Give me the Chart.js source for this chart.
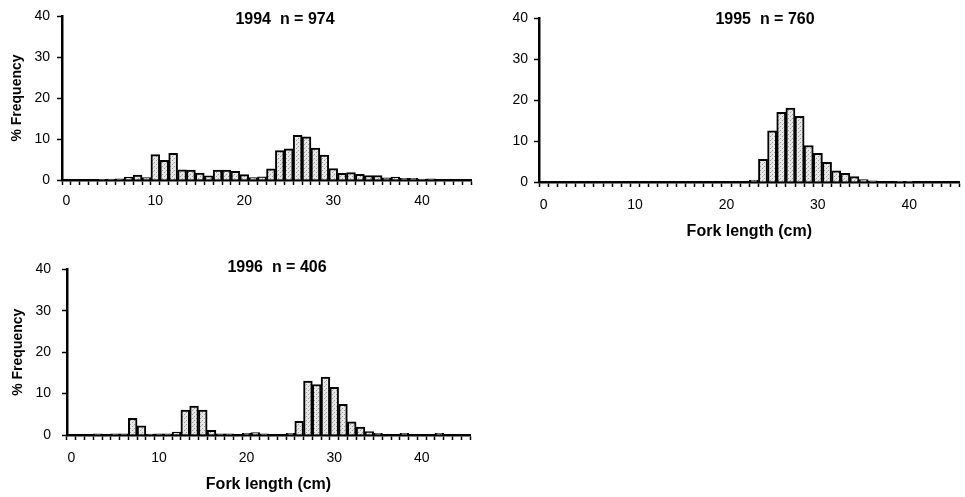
<!DOCTYPE html>
<html>
<head>
<meta charset="utf-8">
<script src="https://cdn.jsdelivr.net/npm/chart.js@4.4.0/dist/chart.umd.min.js"></script>
<style>
  html, body { margin: 0; padding: 0; background: #fff; }
  body { width: 965px; height: 497px; position: relative; overflow: hidden; }
  .panel { position: absolute; }
</style>
</head>
<body>
<div class="panel" style="left:0;top:0;width:480px;height:215px"><canvas id="c1994"></canvas></div>
<div class="panel" style="left:490px;top:0;width:475px;height:245px"><canvas id="c1995"></canvas></div>
<div class="panel" style="left:0;top:250px;width:480px;height:247px"><canvas id="c1996"></canvas></div>
<script>
// fork length classes (cm)
const lengthClasses = [0,1,2,3,4,5,6,7,8,9,10,11,12,13,14,15,16,17,18,19,20,21,22,
                       23,24,25,26,27,28,29,30,31,32,33,34,35,36,37,38,39,40,41,42,43,44,45];
const xTickLabels = [0, 10, 20, 30, 40];
const yTicks = [0, 10, 20, 30, 40];

// % frequency per length class
const freq1994 = [0,0,0,0,0.1,0.2,0.3,0.7,1.2,0.6,6.2,4.8,6.5,2.5,2.4,1.7,1.0,2.4,2.4,2.1,1.3,0.6,0.8,
                  2.7,7.2,7.6,10.9,10.5,7.8,6.1,2.8,1.6,1.8,1.4,1.1,1.1,0.5,0.7,0.4,0.4,0.2,0.3,0,0,0,0];
const freq1995 = [0,0,0,0,0,0,0,0,0,0,0,0,0,0,0,0,0,0,0,0,0,0,0,
                  0.4,5.5,12.5,17.0,18.0,16.0,8.9,7.0,4.8,2.7,2.1,1.3,0.6,0.3,0,0,0.1,0.1,0,0,0,0,0];
const freq1996 = [0,0,0,0.3,0,0.3,0.3,4.0,2.2,0.2,0.3,0.3,0.7,6.0,7.0,6.0,1.1,0.3,0.3,0,0.4,0.6,0.3,
                  0,0,0.4,3.3,13.0,12.2,14.0,11.5,7.4,3.2,1.9,0.8,0.4,0,0,0.4,0,0,0,0.4,0,0,0];

const FONT = '"Liberation Sans", Arial, sans-serif';
Chart.defaults.font.family = FONT;
Chart.defaults.color = '#000';

// stippled grey fill like the printed bars
function stipple() {
    const c = document.createElement('canvas');
    c.width = 4; c.height = 4;
    const g = c.getContext('2d');
    g.fillStyle = '#e8e8e8';
    g.fillRect(0, 0, 4, 4);
    g.fillStyle = '#9a9a9a';
    g.fillRect(0, 0, 1, 1);
    g.fillRect(2, 2, 1, 1);
    g.fillStyle = '#c4c4c4';
    g.fillRect(1, 3, 1, 1);
    return g.createPattern(c, 'repeat');
}

// heading drawn inside the plot, like "1994  n = 974"
const panelTitle = {
    id: 'panelTitle',
    afterDraw(chart, args, opts) {
        const ctx = chart.ctx;
        ctx.save();
        ctx.font = 'bold 16px ' + FONT;
        ctx.fillStyle = '#000';
        ctx.textAlign = 'center';
        ctx.textBaseline = 'middle';
        ctx.fillText(opts.text, opts.x, opts.y);
        ctx.restore();
    }
};

function makeChart(id, values, cfg) {
    new Chart(document.getElementById(id), {
        type: 'bar',
        data: {
            labels: lengthClasses,
            datasets: [{
                data: values,
                backgroundColor: stipple(),
                borderColor: '#000',
                borderWidth: 2,
                barPercentage: 1,
                categoryPercentage: 1
            }]
        },
        plugins: [panelTitle],
        options: {
            responsive: true,
            maintainAspectRatio: false,
            animation: false,
            layout: { padding: cfg.padding },
            plugins: {
                legend: { display: false },
                tooltip: { enabled: false },
                panelTitle: cfg.title
            },
            scales: {
                x: {
                    offset: true,
                    afterFit(scale) { scale.height = cfg.xHeight; },
                    border: { display: true, color: '#000', width: 2.5 },
                    grid: { drawOnChartArea: false, offset: true, tickLength: 5, tickColor: '#000', tickWidth: 1.5 },
                    ticks: {
                        autoSkip: false, maxRotation: 0, padding: cfg.xPad,
                        font: { size: 14 },
                        callback(value) {
                            const lab = this.getLabelForValue(value);
                            return xTickLabels.includes(Number(lab)) ? lab : '';
                        }
                    },
                    title: {
                        display: cfg.xTitle, text: 'Fork length (cm)',
                        font: { size: 16, weight: 'bold' },
                        padding: { top: 0, bottom: cfg.xTitlePad }
                    }
                },
                y: {
                    min: 0, max: 40,
                    afterFit(scale) { scale.width = cfg.yWidth; },
                    afterBuildTicks(scale) { scale.ticks = yTicks.map(v => ({ value: v })); },
                    border: { display: true, color: '#000', width: 2.5 },
                    grid: { drawOnChartArea: false, tickLength: 5, tickColor: '#000', tickWidth: 1.5 },
                    ticks: { padding: cfg.yPad, font: { size: 14 } },
                    title: {
                        display: cfg.yTitle, text: '% Frequency',
                        font: { size: 14, weight: 'bold' },
                        padding: { top: cfg.yTitlePad, bottom: 0 }
                    }
                }
            }
        }
    });
}

makeChart('c1994', freq1994, {
    padding: { top: 16, right: 9, bottom: 0, left: 0 },
    yWidth: 62, xHeight: 35, xPad: 8, yPad: 7,
    xTitle: false, xTitlePad: 0, yTitle: true, yTitlePad: 9,
    title: { text: '1994  n = 974', x: 285, y: 20 }
});

makeChart('c1995', freq1995, {
    padding: { top: 18, right: 0, bottom: 0, left: 0 },
    yWidth: 49, xHeight: 63, xPad: 10, yPad: 6,
    xTitle: true, xTitlePad: 4, yTitle: false, yTitlePad: 0,
    title: { text: '1995  n = 760', x: 275, y: 20 }
});

makeChart('c1996', freq1996, {
    padding: { top: 15, right: 10, bottom: 0, left: 0 },
    yWidth: 67, xHeight: 62, xPad: 10, yPad: 11,
    xTitle: true, xTitlePad: 3, yTitle: true, yTitlePad: 10,
    title: { text: '1996  n = 406', x: 277, y: 18 }
});
</script>
</body>
</html>
